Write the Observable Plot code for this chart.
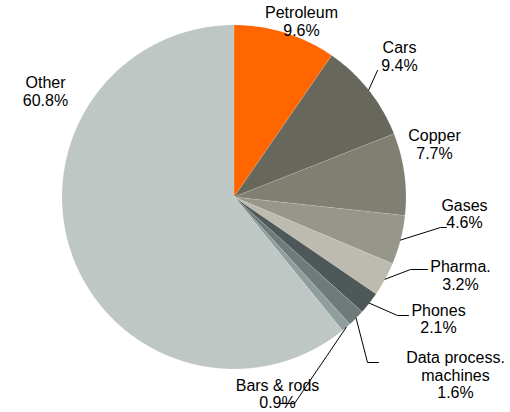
<!DOCTYPE html>
<html><head><meta charset="utf-8">
<script src="https://cdn.jsdelivr.net/npm/d3@7"></script>
<script src="https://cdn.jsdelivr.net/npm/@observablehq/plot@0.6"></script>
<style>body{margin:0;background:#fff}</style>
</head><body><div id="chart"></div>
<script>
const categories = ["Petroleum","Cars","Copper","Gases","Pharma.","Phones","Data process.\nmachines","Bars & rods","Other"];
const shares = [9.6, 9.4, 7.7, 4.6, 3.2, 2.1, 1.6, 0.9, 60.8];
const labels = ["9.6%","9.4%","7.7%","4.6%","3.2%","2.1%","1.6%","0.9%","60.8%"];
const colors = ["#ff6600","#67675c","#807f71","#96968a","#bdbab0","#4f5858","#6e7b7a","#8f9d9c","#bfc7c4"];

// layout (pixel units of the drawing)
const cx = 233.5, cy = 196.5, R = 172;
const labelPos = [[301,21],[399,56],[434,144],[464,213.5],[460,275],[438,318.5],[455,374.5],[277,393.5],[45,91]];
const leaderBends = [null,[[377,70]],null,[[440,227],[446,227]],[[410,269],[427,269]],[[397,315],[408,315]],[[367,362],[378,362]],[[294,403],[280,403]],null];

const total = d3.sum(shares);
const slices = [];
let acc = 0;
shares.forEach((v,i)=>{ slices.push({name:categories[i], a0:acc/total*2*Math.PI, a1:(acc+v)/total*2*Math.PI}); acc+=v; });

const pt = (a,r)=>[cx + r*Math.sin(a), cy - r*Math.cos(a)];
const poly = [];
slices.forEach(s=>{
  poly.push({name:s.name, x:cx, y:cy});
  const n = Math.max(2, Math.ceil((s.a1-s.a0)/(Math.PI/360)));
  for(let k=0;k<=n;k++){ const [x,y]=pt(s.a0+(s.a1-s.a0)*k/n, R); poly.push({name:s.name,x,y}); }
  poly.push({name:s.name, x:cx, y:cy});
});

const leaders = [];
slices.forEach((s,i)=>{
  if(!leaderBends[i]) return;
  const [x,y] = pt((s.a0+s.a1)/2, R);
  leaders.push({id:i,x,y});
  leaderBends[i].forEach(([bx,by])=>leaders.push({id:i,x:bx,y:by}));
});

const textData = categories.map((c,i)=>({text:c+"\n"+labels[i], x:labelPos[i][0], y:labelPos[i][1]}));

const chart = Plot.plot({
  width:510, height:412, margin:0,
  x:{domain:[0,510], range:[0,510], axis:null},
  y:{domain:[0,412], range:[0,412], axis:null},
  color:{domain:categories, range:colors},
  style:{background:"#fff"},
  marks:[
    Plot.line(poly,{x:"x",y:"y",z:"name",fill:"name",stroke:"#ffffff",strokeWidth:0.4,strokeOpacity:0.3}),
    Plot.line(leaders,{x:"x",y:"y",z:"id",stroke:"#000",strokeWidth:1}),
    Plot.text(textData,{x:"x",y:"y",text:"text",textAnchor:"middle",lineAnchor:"middle",lineHeight:1.1,fontSize:16,fontFamily:"Liberation Sans, Arial, sans-serif",fill:"#000"})
  ]
});
document.getElementById("chart").appendChild(chart);
</script></body></html>
